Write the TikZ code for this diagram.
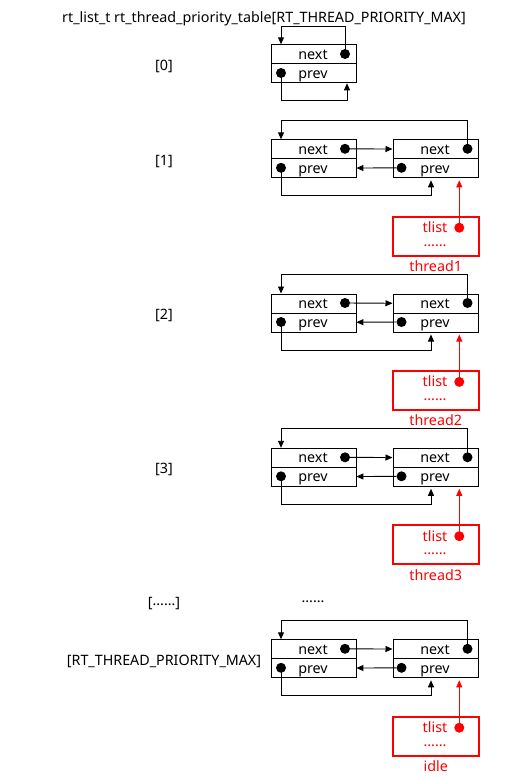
\documentclass[tikz,border=0pt]{standalone}
\usepackage{fontspec}
\setmainfont{Noto Sans}
\usetikzlibrary{arrows.meta}
\newcommand\mydots{\raisebox{2.5pt}{......}}
\tikzset{
  txt/.style={font=\fontsize{14.3}{17}\selectfont, inner sep=0pt, anchor=base},
  cell/.style={draw, line width=0.9pt, minimum width=85pt, minimum height=19pt, inner sep=0pt, anchor=north west},
  dot/.style={circle, fill=black, inner sep=0pt, minimum size=10pt},
  rdot/.style={circle, fill=red, inner sep=0pt, minimum size=10pt},
  lnk/.style={line width=0.9pt, -{Triangle[length=7pt,width=6pt]}},
  rlnk/.style={red, line width=0.8pt, -{Triangle[length=7pt,width=6pt]}},
  tbox/.style={draw=red, line width=2pt, minimum width=86pt, minimum height=39pt, inner sep=0pt, anchor=north west},
  rtxt/.style={txt, text=red}
}
\newcommand\pairblock[4]{% #1 prefix, #2 top, #3 index label, #4 thread label
  \node[txt] (#1idx) at (164,{#2+26}) {#3};
  \node[cell] (#1ln) at (270.5,#2) {};
  \node[cell] (#1lp) at (270.5,{#2+19}) {};
  \node[cell] (#1rn) at (392.5,#2) {};
  \node[cell] (#1rp) at (392.5,{#2+19}) {};
  \node[txt] (#1lnt) at (313,{#2+15}) {next};
  \node[txt] (#1lpt) at (313,{#2+34}) {prev};
  \node[txt] (#1rnt) at (435,{#2+15}) {next};
  \node[txt] (#1rpt) at (435,{#2+34}) {prev};
  \node[dot] (#1lnd) at (345,{#2+9.5}) {};
  \node[dot] (#1lpd) at (281,{#2+28.5}) {};
  \node[dot] (#1rnd) at (467.5,{#2+9.5}) {};
  \node[dot] (#1rpd) at (401.5,{#2+28.5}) {};
  \draw[lnk] (#1lnd) -- (#1rn);
  \draw[lnk] (#1rpd) -- (#1lp);
  \coordinate (#1tl) at (281,{#2-19});
  \draw[lnk] (#1rnd.center) |- (#1tl) -- (#1tl |- #1ln.north);
  \coordinate (#1bl) at (431,{#2+56.5});
  \coordinate (#1bt) at (431,{#2+41});
  \draw[lnk] (#1lpd.center) |- (#1bl) -- (#1bt);
  \node[tbox] (#1tb) at (391.5,{#2+76.4}) {};
  \node[rtxt] (#1tls) at (435,{#2+93.4}) {tlist};
  \node[rtxt] (#1tdots) at (435,{#2+109.4}) {\mydots};
  \node[rdot] (#1td) at (459.3,{#2+88.4}) {};
  \coordinate (#1tt) at (459.3,{#2+41});
  \draw[rlnk] (#1td.center) -- (#1tt);
  \node[rtxt] (#1thr) at (435.7,{#2+132.4}) {#4};
}
\begin{document}
\begin{tikzpicture}[x=1pt,y=-1pt]
\useasboundingbox (0,0) rectangle (525,777);
\node[txt] (title) at (264,22.3) {rt\_list\_t rt\_thread\_priority\_table[RT\_THREAD\_PRIORITY\_MAX]};
% block 0
\node[txt] (aidx) at (164,70.3) {[0]};
\node[cell] (aln) at (270.5,44.3) {};
\node[cell] (alp) at (270.5,63.3) {};
\node[txt] (alnt) at (313,59.3) {next};
\node[txt] (alpt) at (313,78.3) {prev};
\node[dot] (alnd) at (345,54) {};
\node[dot] (alpd) at (281,73) {};
\coordinate (atl) at (281,26.7);
\draw[lnk] (alnd.center) |- (atl) -- (atl |- aln.north);
\coordinate (abl) at (347,100.7);
\coordinate (abt) at (347,83.3);
\draw[lnk] (alpd.center) |- (abl) -- (abt);
\pairblock{b}{139.3}{[1]}{thread1}
\pairblock{c}{293.5}{[2]}{thread2}
\pairblock{d}{447.8}{[3]}{thread3}
\node[txt] (eidx) at (164,607.5) {[\mydots]};
\node[txt] (edots) at (313,605) {\mydots};
\pairblock{f}{639.3}{[RT\_THREAD\_PRIORITY\_MAX]}{idle}
\end{tikzpicture}
\end{document}
